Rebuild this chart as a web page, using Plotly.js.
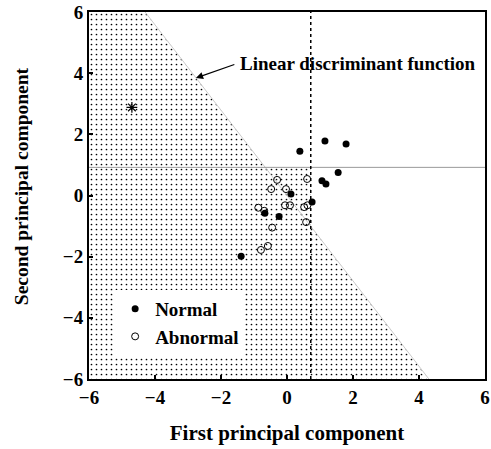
<!DOCTYPE html>
<html>
<head>
<meta charset="utf-8">
<script src="https://cdn.plot.ly/plotly-3.0.1.min.js"></script>
<style>html,body{margin:0;padding:0;background:#fff;}#chart{width:491px;height:449px;}</style>
</head>
<body>
<div id="chart"></div>
<script>
// ---- data ----
const normalX = [0.39, 1.15, 1.79, 1.55, 1.06, 1.18, 0.76, 0.12, -0.67, -0.24, -1.39];
const normalY = [1.45, 1.78, 1.68, 0.75, 0.48, 0.38, -0.21, 0.05, -0.58, -0.69, -1.99];
const abnormalX = [-0.30, 0.61, -0.48, -0.03, -0.87, -0.06, 0.09, 0.52, 0.62, -0.69, 0.58, -0.45, -0.58, -0.79];
const abnormalY = [0.51, 0.54, 0.21, 0.21, -0.40, -0.32, -0.32, -0.38, -0.32, -0.50, -0.87, -1.05, -1.65, -1.78];
const starX = [-4.7];
const starY = [2.88];
const discX = [-4.3, 4.3];   // linear discriminant function end points
const discY = [6, -6];
const cutX = [0.72];         // vertical threshold
const cutY = [0.92];         // horizontal threshold
const axisRange = [-6, 6];
const tickVals = [-6, -4, -2, 0, 2, 4, 6];

// ---- derived geometry ----
const slope = (discY[1] - discY[0]) / (discX[1] - discX[0]);
const xAtY = y => discX[0] + (y - discY[0]) / slope;
const yAtX = x => discY[0] + slope * (x - discX[0]);
const polyX = [axisRange[0], discX[0], xAtY(cutY[0]), cutX[0], cutX[0], discX[1], axisRange[0], axisRange[0]];
const polyY = [axisRange[1], discY[0], cutY[0], cutY[0], yAtX(cutX[0]), discY[1], axisRange[0], axisRange[1]];

const FONT = 'Liberation Serif, Times New Roman, serif';

const traces = [
  {x: polyX, y: polyY, type: 'scatter', mode: 'lines', fill: 'toself', fillcolor: 'rgba(0,0,0,0)',
   fillpattern: {shape: '.', fgcolor: '#000', bgcolor: '#fff', size: 5, solidity: 0.09},
   line: {width: 0}, hoverinfo: 'skip', showlegend: false},
  {x: discX, y: discY, type: 'scatter', mode: 'lines', line: {color: '#ccc', width: 1}, showlegend: false},
  {x: axisRange, y: [cutY[0], cutY[0]], type: 'scatter', mode: 'lines', line: {color: '#999', width: 1}, showlegend: false},
  {x: [cutX[0], cutX[0]], y: axisRange, type: 'scatter', mode: 'lines', line: {color: '#000', width: 1.5, dash: 'dot'}, showlegend: false},
  {x: normalX, y: normalY, type: 'scatter', mode: 'markers', name: 'Normal',
   marker: {symbol: 'circle', size: 7, color: '#000'}},
  {x: abnormalX, y: abnormalY, type: 'scatter', mode: 'markers', name: 'Abnormal',
   marker: {symbol: 'circle-open', size: 7, color: '#000', line: {width: 1}}},
  {x: starX, y: starY, type: 'scatter', mode: 'markers', showlegend: false,
   marker: {symbol: 'asterisk-open', size: 9, color: '#000', line: {width: 1.2, color: '#000'}}}
];

const axisCommon = {
  range: axisRange, tickvals: tickVals, ticks: 'inside', ticklen: 4, tickwidth: 2, tickcolor: '#000',
  showline: true, linecolor: '#000', linewidth: 2, mirror: true, showgrid: false, zeroline: false,
  tickfont: {family: FONT, size: 19, color: '#000', weight: 'bold'}
};

const layout = {
  width: 491, height: 449,
  margin: {l: 89, r: 6, t: 12, b: 70},
  paper_bgcolor: '#fff', plot_bgcolor: '#fff',
  font: {family: FONT, color: '#000'},
  xaxis: Object.assign({}, axisCommon, {
    title: {text: 'First principal component', font: {family: FONT, size: 21, weight: 'bold', color: '#000'}, standoff: 19}
  }),
  yaxis: Object.assign({}, axisCommon, {title: {text: ''}}),
  showlegend: true,
  legend: {x: 0.066, y: 0.243, xanchor: 'left', yanchor: 'top', bgcolor: '#fff', borderwidth: 0,
           font: {family: FONT, size: 19, weight: 'bold', color: '#000'}, itemwidth: 30, tracegroupgap: 4},
  annotations: [{
    x: -2.76, y: 3.84, ax: -1.55, ay: 4.3, axref: 'x', ayref: 'y', xref: 'x', yref: 'y',
    showarrow: true, arrowhead: 2, arrowsize: 1.2, arrowwidth: 1.2, arrowcolor: '#000',
    text: ''
  }, {
    x: -1.5, y: 4.3, xref: 'x', yref: 'y', xanchor: 'left', yanchor: 'middle', showarrow: false,
    text: 'Linear discriminant function', font: {family: FONT, size: 19, weight: 'bold', color: '#000'}
  }, {
    x: -0.172, y: 0.525, xref: 'paper', yref: 'paper', xanchor: 'center', yanchor: 'middle', showarrow: false,
    textangle: -90, text: 'Second principal component', font: {family: FONT, size: 19.5, weight: 'bold', color: '#000'}
  }]
};

Plotly.newPlot('chart', traces, layout, {displayModeBar: false, staticPlot: true});
</script>
</body>
</html>
